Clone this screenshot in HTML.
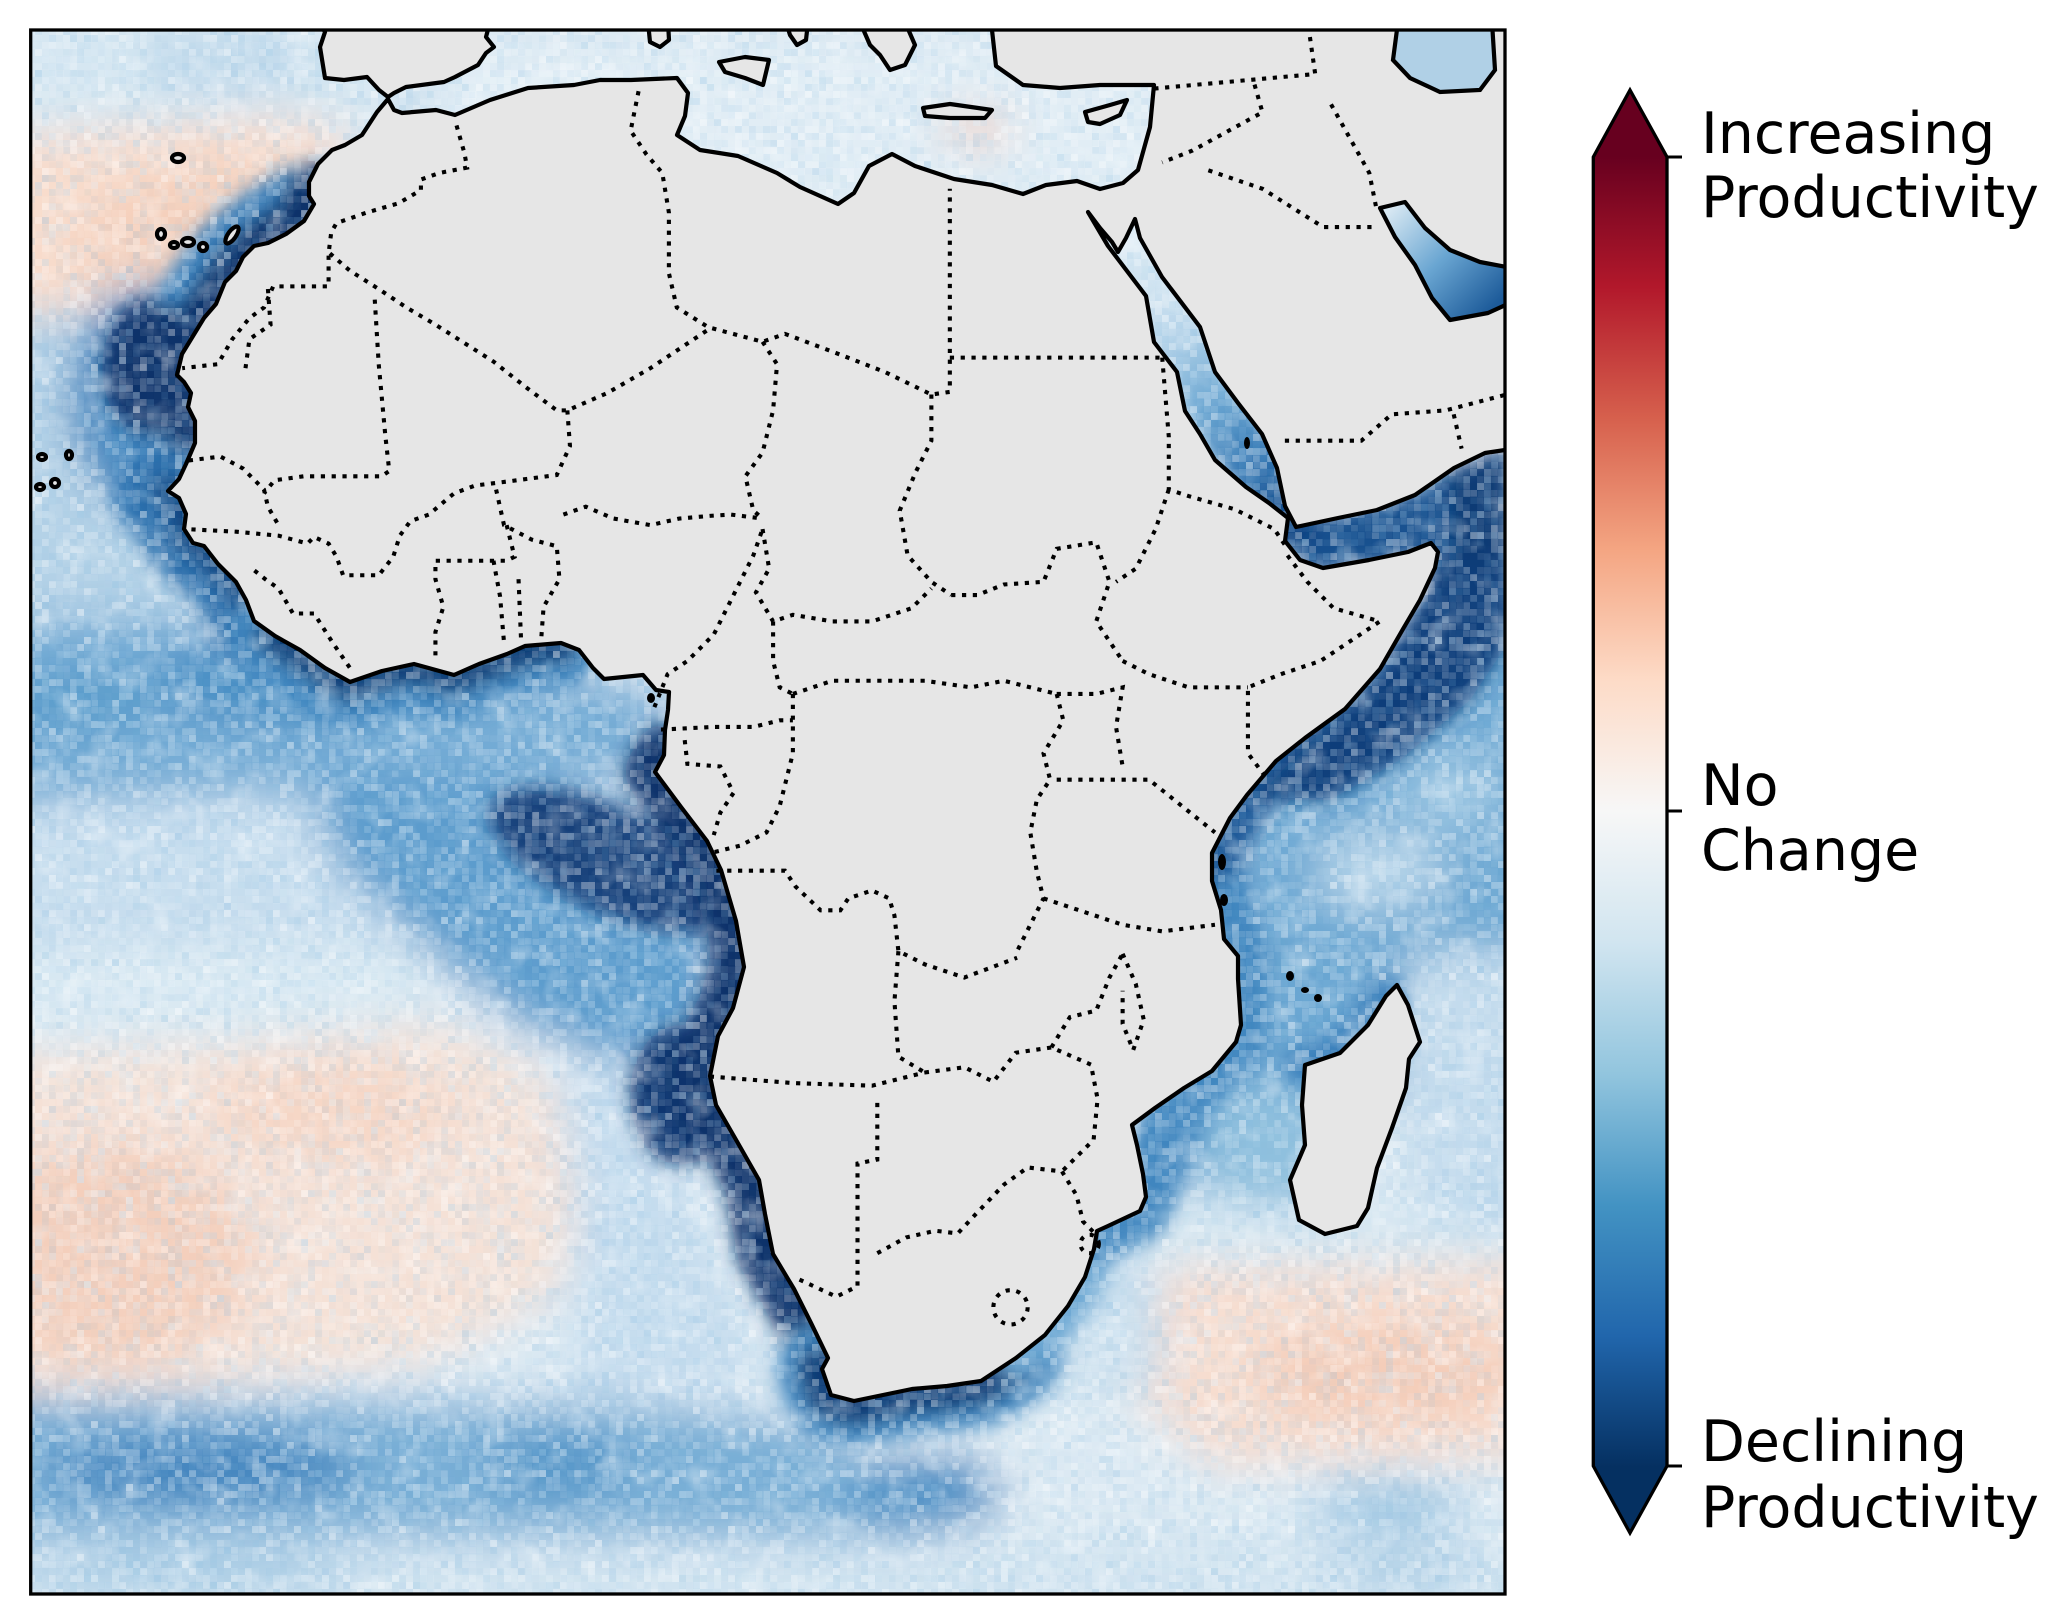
<!DOCTYPE html>
<html><head><meta charset="utf-8"><style>
html,body{margin:0;padding:0;background:#fff;}
svg{display:block;}
text{font-family:"DejaVu Sans","Liberation Sans",sans-serif;font-size:57px;fill:#000;}
</style></head><body>
<svg width="2072" height="1624" viewBox="0 0 2072 1624" xmlns="http://www.w3.org/2000/svg">
<defs>
<clipPath id="frame"><rect x="32" y="31.5" width="1472" height="1561"/></clipPath>
<filter id="bl12" x="-0.2" y="-0.2" width="1.4" height="1.4"><feGaussianBlur stdDeviation="16"/></filter>
<filter id="bl8" x="-0.3" y="-0.3" width="1.6" height="1.6"><feGaussianBlur stdDeviation="9"/></filter>
<filter id="nz1" filterUnits="userSpaceOnUse" x="0" y="0" width="1540" height="1624">
<feTurbulence type="fractalNoise" baseFrequency="0.035" numOctaves="2" seed="7"/>
<feColorMatrix type="matrix" values="0 0 0 0 1  0 0 0 0 1  0 0 0 0 1  2.6 0 0 0 -1.35"/>
</filter>
<filter id="nz2" filterUnits="userSpaceOnUse" x="0" y="0" width="1540" height="1624">
<feTurbulence type="fractalNoise" baseFrequency="0.45" numOctaves="1" seed="3" result="t"/>
<feColorMatrix in="t" type="matrix" values="0 0 0 0 1  0 0 0 0 1  0 0 0 0 1  3.2 0 0 0 -1.55" result="w"/>
<feFlood x="3" y="3" width="1" height="1" flood-color="#000" flood-opacity="1"/>
<feComposite width="7" height="7"/>
<feTile result="a"/>
<feComposite in="w" in2="a" operator="in"/>
<feMorphology operator="dilate" radius="3"/>
</filter>
<filter id="nz3" filterUnits="userSpaceOnUse" x="0" y="0" width="1540" height="1624">
<feTurbulence type="fractalNoise" baseFrequency="0.45" numOctaves="1" seed="11" result="t"/>
<feColorMatrix in="t" type="matrix" values="0 0 0 0 0.26  0 0 0 0 0.52  0 0 0 0 0.76  0 3.2 0 0 -1.65" result="w"/>
<feFlood x="3" y="3" width="1" height="1" flood-color="#000" flood-opacity="1"/>
<feComposite width="7" height="7"/>
<feTile result="a"/>
<feComposite in="w" in2="a" operator="in"/>
<feMorphology operator="dilate" radius="3"/>
</filter>
<linearGradient id="cb" x1="0" y1="1" x2="0" y2="0">
<stop offset="0" stop-color="#053061"/><stop offset="0.1" stop-color="#2166ac"/><stop offset="0.2" stop-color="#4393c3"/><stop offset="0.3" stop-color="#92c5de"/><stop offset="0.4" stop-color="#d1e5f0"/><stop offset="0.5" stop-color="#f7f7f7"/><stop offset="0.6" stop-color="#fddbc7"/><stop offset="0.7" stop-color="#f4a582"/><stop offset="0.8" stop-color="#d6604d"/><stop offset="0.9" stop-color="#b2182b"/><stop offset="1" stop-color="#67001f"/>
</linearGradient>
<linearGradient id="rs" gradientUnits="userSpaceOnUse" x1="1095" y1="215" x2="1290" y2="530">
<stop offset="0" stop-color="#e6f0f7"/><stop offset="0.35" stop-color="#c5ddee"/><stop offset="0.6" stop-color="#6aa6d2"/><stop offset="0.8" stop-color="#2f73b1"/><stop offset="1" stop-color="#0e4180"/>
</linearGradient>
<linearGradient id="pg" gradientUnits="userSpaceOnUse" x1="1390" y1="210" x2="1490" y2="310">
<stop offset="0" stop-color="#d6e7f2"/><stop offset="0.5" stop-color="#6aa6d2"/><stop offset="1" stop-color="#1d5b9a"/>
</linearGradient>
</defs>

<g clip-path="url(#frame)">
<!-- broad ocean layer (display coords) -->
<g transform="translate(1.48,1.48) scale(1.319)" filter="url(#bl12)">
<rect x="-40" y="-40" width="1240" height="1310" fill="#dbe9f3"/>
<path d="M-40,-40 L280,-40 L280,85 L-40,100 Z" fill="#d6e7f2"/>
<ellipse cx="170" cy="45" rx="70" ry="25" fill="#c0d9eb"/>
<path d="M-40,105 L100,95 L200,88 L262,95 L250,145 L215,180 L170,205 L110,230 L-40,245 Z" fill="#f8dccc"/>
<ellipse cx="140" cy="165" rx="90" ry="40" transform="rotate(-15 140 165)" fill="#f5d0bc"/>
<path d="M-40,240 L60,235 L90,330 L140,420 L150,480 L-40,480 Z" fill="#b4d2e7"/>
<ellipse cx="105" cy="300" rx="55" ry="85" fill="#3f86bf"/>
<path d="M-40,470 L150,465 L260,500 L420,505 L500,520 L520,590 L350,600 L200,605 L-40,610 Z" fill="#74acd5"/>
<ellipse cx="210" cy="515" rx="100" ry="35" fill="#4a8fc5"/>
<ellipse cx="60" cy="530" rx="60" ry="30" fill="#5c9dcc"/>
<path d="M-40,610 L240,600 L310,650 L310,720 L-40,725 Z" fill="#c6ddee"/>
<path d="M230,585 L380,590 L500,615 L545,650 L545,800 L470,810 L380,770 L310,710 L250,650 Z" fill="#5b9ccd"/>
<path d="M-40,720 L320,715 L340,790 L-40,805 Z" fill="#d9e9f3"/>
<path d="M-40,800 L180,790 L330,775 L410,810 L440,890 L420,980 L330,1030 L160,1050 L-40,1060 Z" fill="#f5e1d6"/>
<ellipse cx="80" cy="950" rx="110" ry="85" fill="#f4cfbc"/>
<ellipse cx="250" cy="840" rx="90" ry="40" fill="#f6d7c6"/>
<path d="M420,810 L500,820 L540,950 L580,1050 L430,1055 L440,960 Z" fill="#c4dcee"/>
<path d="M-40,1055 L300,1060 L480,1062 L600,1075 L680,1110 L700,1165 L-40,1170 Z" fill="#78aed6"/>
<ellipse cx="150" cy="1112" rx="120" ry="25" fill="#3d82bd"/>
<ellipse cx="420" cy="1110" rx="55" ry="20" fill="#4a8fc5"/>
<ellipse cx="700" cy="1130" rx="60" ry="30" fill="#4a8fc5"/>
<rect x="-40" y="1165" width="1240" height="100" fill="#d0e3f0"/>
<ellipse cx="140" cy="1190" rx="130" ry="16" fill="#a3c9e3"/>
<ellipse cx="1060" cy="1185" rx="60" ry="15" fill="#a9cce4"/>
<path d="M860,955 L1180,945 L1180,1105 L920,1110 L860,1060 Z" fill="#f7ddcf"/>
<ellipse cx="1050" cy="1040" rx="100" ry="40" fill="#f4cdb9"/>
<ellipse cx="1050" cy="1140" rx="60" ry="20" fill="#9cc6e2"/>
<path d="M780,880 L880,870 L880,1050 L760,1060 Z" fill="#c9dfee"/>
<path d="M930,540 L1180,420 L1180,740 L930,740 Z" fill="#6da8d3"/>
<ellipse cx="1045" cy="660" rx="50" ry="30" fill="#b5d4e9"/>
<ellipse cx="1100" cy="600" rx="40" ry="30" fill="#9ac5e2"/>
<path d="M880,720 L1060,720 L1060,830 L990,880 L880,900 Z" fill="#6aa6d2"/>
<path d="M1070,720 L1180,720 L1180,950 L1070,950 Z" fill="#c3dbed"/>
<ellipse cx="960" cy="880" rx="50" ry="60" fill="#8fc0de"/>
<path d="M870,905 L1180,935 L1180,955 L870,960 Z" fill="#d6e7f2"/>
<rect x="280" y="40" width="600" height="100" fill="#e1edf5"/>
<ellipse cx="740" cy="97" rx="25" ry="10" fill="#f3c3ac"/>
<ellipse cx="310" cy="72" rx="20" ry="8" fill="#86b9dc"/>
</g>

<!-- coastal detail layer (actual coords) -->
<g filter="url(#bl8)" fill="none" stroke-linejoin="round" stroke-linecap="round">
<polyline points="304,221 268,243 236,271 216,304 193,336 177,375 191,393 195,443 179,479 168,491" stroke="#3b80bb" stroke-width="110"/>
<ellipse cx="150" cy="368" rx="48" ry="68" fill="#08306b" stroke="none"/>
<polyline points="318,190 309,200 304,221 268,243 236,271 216,304 193,336 177,375 191,393 195,443 179,479 168,491" stroke="#08306b" stroke-width="56"/>
<polyline points="168,491 179,498 186,514 184,529 193,543 204,546 218,564 236,582 246,600 254,621 275,636 300,650" stroke="#2c6eac" stroke-width="90"/>
<polyline points="168,491 179,498 186,514 184,529 193,543 204,546 218,564 236,582 246,600 254,621 275,636 300,650" stroke="#0f427f" stroke-width="30"/>
<polyline points="275,636 300,650 325,668 350,682 382,671 414,664 454,675 479,664 507,654 525,646 561,643" stroke="#3f86bf" stroke-width="90"/>
<polyline points="275,636 300,650 325,668 350,682 382,671 414,664 454,675 479,664 507,654 525,646 561,643" stroke="#0c3c77" stroke-width="40"/>
<ellipse cx="610" cy="860" rx="130" ry="52" transform="rotate(25 610 860)" fill="#123f7a" stroke="none"/>
<polyline points="664,755 655,772 681,807 707,841 721,870 736,921 744,967" stroke="#08306b" stroke-width="60"/>
<ellipse cx="680" cy="1095" rx="50" ry="70" fill="#0a3570" stroke="none"/>
<polyline points="744,967 733,1008 718,1036 710,1076 716,1105 739,1145 759,1180 765,1214 773,1254 794,1289 811,1323 828,1358 822,1369 831,1395" stroke="#08306b" stroke-width="70"/>
<polyline points="822,1369 831,1395 854,1401 883,1395 912,1389 947,1386 981,1381 1016,1358" stroke="#3f86bf" stroke-width="90"/>
<polyline points="822,1369 831,1395 854,1401 883,1395 912,1389 947,1386 981,1381 1016,1358" stroke="#0a3a74" stroke-width="50"/>
<polyline points="1016,1358 1045,1335 1068,1306 1085,1277 1094,1249" stroke="#6aa6d2" stroke-width="40"/>
<polyline points="1097,1231 1140,1211 1184,1088 1236,1042 1238,956 1212,853" stroke="#3f86bf" stroke-width="60"/>
<polyline points="1212,853 1230,818 1247,795 1276,761 1305,738" stroke="#1a5898" stroke-width="60"/>
<polygon points="1247,800 1300,745 1380,669 1420,600 1440,552 1510,545 1510,640 1470,700 1400,760 1330,800" fill="#0d3e7a" stroke="none"/>
<polygon points="1415,495 1454,468 1510,445 1510,560 1440,560" fill="#0b3a74" stroke="none"/>
<polygon points="1285,535 1300,515 1338,512 1415,492 1450,470 1450,560 1420,560 1300,575" fill="#174f8e" stroke="none"/>
<polyline points="1095,215 1135,270 1175,330 1200,380 1230,430 1260,470 1285,520" stroke="url(#rs)" stroke-width="60"/>
<polyline points="1305,1065 1340,1053 1368,1025 1386,996" stroke="#3a80bb" stroke-width="40"/>
</g>

<!-- grain -->
<rect x="0" y="0" width="1540" height="1624" filter="url(#nz1)" opacity="0.35"/>
<rect x="0" y="0" width="1540" height="1624" filter="url(#nz2)" opacity="0.45"/>
<rect x="0" y="0" width="1540" height="1624" filter="url(#nz3)" opacity="0.3"/>

<!-- land -->
<g fill="#e6e6e6" stroke="#000" stroke-width="4.2" stroke-linejoin="round">
<path d="M388,99 L377,112 L362,135 L345,145 L332,150 L318,164 L309,182 L309,196 L314,204 L304,221 L286,234 L268,243 L254,246 L243,257 L236,271 L225,282 L216,304 L204,318 L193,336 L182,354 L177,375 L184,382 L191,393 L188,407 L195,421 L195,443 L186,464 L179,479 L168,491 L179,498 L186,514 L184,529 L193,543 L204,546 L218,564 L236,582 L246,600 L254,621 L275,636 L300,650 L325,668 L350,682 L382,671 L414,664 L454,675 L479,664 L507,654 L525,646 L561,643 L579,650 L593,668 L604,679 L643,675 L656,690 L669,692 L668,710 L665,730 L664,755 L655,772 L681,807 L707,841 L721,870 L736,921 L744,967 L733,1008 L718,1036 L710,1076 L716,1105 L739,1145 L759,1180 L765,1214 L773,1254 L794,1289 L811,1323 L828,1358 L822,1369 L831,1395 L854,1401 L883,1395 L912,1389 L947,1386 L981,1381 L1016,1358 L1045,1335 L1068,1306 L1085,1277 L1094,1249 L1097,1231 L1108,1226 L1140,1211 L1146,1197 L1143,1174 L1137,1145 L1132,1125 L1155,1108 L1184,1088 L1212,1071 L1236,1042 L1241,1025 L1238,979 L1238,956 L1224,939 L1221,910 L1212,881 L1212,853 L1230,818 L1247,795 L1276,761 L1305,738 L1345,709 L1380,669 L1403,629 L1420,600 L1435,568 L1438,552 L1431,543 L1408,552 L1369,560 L1323,568 L1300,560 L1285,541 L1288,518 L1269,503 L1246,487 L1215,460 L1200,434 L1185,411 L1177,372 L1154,342 L1146,296 L1108,246 L1088,212 L1100,228 L1112,242 L1118,252 L1126,238 L1135,219 L1140,238 L1162,277 L1200,327 L1215,372 L1238,403 L1262,434 L1277,468 L1285,506 L1296,527 L1338,518 L1377,510 L1415,495 L1454,468 L1485,453 L1512,449 L1512,22 L990,22 L992,30 L996,66 L1023,85 L1060,88 L1100,85 L1154,85 L1150,127 L1138,170 L1123,183 L1100,189 L1077,181 L1046,185 L1023,194 L992,185 L954,179 L915,166 L892,154 L869,166 L854,193 L838,204 L800,187 L777,173 L738,156 L700,150 L677,135 L685,116 L688,93 L677,78 L631,80 L600,80 L574,85 L528,88 L490,100 L455,115 L436,110 L402,113 L394,110 Z"/>
<path d="M319,22 L325,32 L320,47 L325,78 L344,80 L367,77 L379,90 L388,97 L394,93 L406,87 L444,82 L455,77 L478,65 L486,53 L494,47 L486,37 L490,22 Z"/>
<path d="M648,22 L668,22 L669,40 L660,47 L650,42 Z"/>
<path d="M719,62 L745,57 L769,60 L763,85 L745,78 L725,72 Z"/>
<path d="M786,22 L808,22 L806,40 L797,45 L790,35 Z"/>
<path d="M860,22 L905,22 L915,45 L905,65 L890,70 L880,55 L870,45 Z"/>
<path d="M923,108 L950,104 L992,110 L985,118 L950,118 L925,116 Z"/>
<path d="M1085,112 L1110,105 L1127,100 L1120,115 L1100,124 L1088,122 Z"/>
<path d="M1397,985 L1408,1005 L1420,1042 L1409,1059 L1406,1088 L1392,1128 L1377,1168 L1368,1208 L1357,1226 L1325,1234 L1299,1220 L1290,1180 L1305,1145 L1302,1105 L1305,1065 L1340,1053 L1368,1025 L1386,996 Z"/>
<ellipse cx="178" cy="158" rx="6" ry="4"/>
<ellipse cx="161" cy="234" rx="4" ry="5"/>
<ellipse cx="174" cy="245" rx="4" ry="3"/>
<ellipse cx="188" cy="242" rx="6" ry="4"/>
<ellipse cx="203" cy="247" rx="4" ry="4"/>
<ellipse cx="232" cy="235" rx="4" ry="10" transform="rotate(35 232 235)"/>
<ellipse cx="42" cy="457" rx="4" ry="3"/>
<ellipse cx="69" cy="455" rx="3" ry="4"/>
<ellipse cx="55" cy="483" rx="4" ry="4"/>
<ellipse cx="40" cy="487" rx="4" ry="3"/>
</g>
<!-- inland waters -->
<path d="M1398,22 L1393,60 L1410,78 L1440,92 L1480,90 L1495,70 L1492,22 Z" fill="#b0d0e6" stroke="#000" stroke-width="4.2"/>
<path d="M1380,208 L1405,202 L1425,228 L1450,250 L1480,262 L1512,268 L1512,302 L1488,313 L1450,320 L1432,298 L1415,265 L1395,237 Z" fill="url(#pg)" stroke="#000" stroke-width="4.2" stroke-linejoin="round"/>
<g fill="#000">
<ellipse cx="1222" cy="862" rx="4" ry="8"/><ellipse cx="1224" cy="900" rx="4" ry="6"/>
<ellipse cx="1290" cy="976" rx="4" ry="5"/><ellipse cx="1305" cy="990" rx="4" ry="3"/><ellipse cx="1318" cy="998" rx="4" ry="4"/>
<ellipse cx="651" cy="698" rx="4" ry="5"/><ellipse cx="1247" cy="443" rx="3" ry="6"/>
</g>

<!-- borders (display coords) -->
<g transform="translate(1.48,1.48) scale(1.319)" fill="none" stroke="#000" stroke-width="3.1" stroke-dasharray="3.2 5">
<polyline points="345,94 351,115 353,126 332,130 318,135 318,143 301,153 277,160 254,168 250,175 248,191 248,216 206,216 199,232 188,240 175,256 164,275 137,278"/>
<polyline points="202,218 204,245 188,256 185,278"/>
<polyline points="249,191 264,204 286,218 307,232 329,245 351,259 373,273 397,292 421,310 429,310 459,297 492,278 537,248"/>
<polyline points="283,226 286,275 291,329 294,356 288,360 229,360 207,363 199,373"/>
<polyline points="142,348 166,345 183,354 199,370 202,383 210,397"/>
<polyline points="429,310 431,337 421,359 383,364 359,367 343,373 324,389 310,394 302,405 297,421 286,435 259,435 254,421 248,411 237,406 232,411 210,405 178,402 140,400"/>
<polyline points="375,370 381,397 402,408 421,413 423,438 411,459 409,486"/>
<polyline points="383,397 389,421 383,424 329,424 329,438 335,459 329,478 329,500"/>
<polyline points="373,424 378,451 381,486"/>
<polyline points="392,438 394,486"/>
<polyline points="426,389 443,383 464,392 492,397 514,392 537,390 553,389 577,392"/>
<polyline points="264,505 251,486 237,464 221,464 210,445 200,438 190,430"/>
<polyline points="483,68 477,98 489,116 501,130 506,160 506,182 506,206 512,232 536,247 577,258 594,252 634,267 670,281 705,298 719,296 719,270 719,142"/>
<polyline points="719,270 880,270"/>
<polyline points="577,258 588,275 585,310 577,342 564,360 570,386 577,392"/>
<polyline points="705,298 705,333 693,357 681,386 687,420 705,440 720,450"/>
<polyline points="495,535 505,510 520,500 540,480 550,460 560,440 570,420 577,400"/>
<polyline points="577,400 582,430 572,448 585,470 600,465 630,470 660,470 690,460 705,445"/>
<polyline points="585,470 585,500 590,520 600,525"/>
<polyline points="500,552 540,550 570,550 590,545 600,545"/>
<polyline points="518,560 520,578 545,580 555,600 545,615 540,632"/>
<polyline points="600,525 600,570 590,610 580,630 560,640 540,645"/>
<polyline points="600,525 630,515 665,515 700,515 735,520 760,515 800,525"/>
<polyline points="720,450 740,450 760,442 790,440 800,415 830,410 840,440 830,470 850,500"/>
<polyline points="880,270 885,330 885,370 900,375 935,385 965,400 975,415"/>
<polyline points="885,370 875,400 860,430 845,440"/>
<polyline points="975,420 990,440 1010,460 1045,470 1000,500 970,510 945,520 945,570 960,590"/>
<polyline points="850,500 870,510 900,520 945,520"/>
<polyline points="800,525 830,525 850,520 845,550 850,580"/>
<polyline points="800,525 805,545 790,570 795,590 785,605 780,630 785,660 790,680 780,700 770,720"/>
<polyline points="800,590 850,590 870,590 920,630"/>
<polyline points="790,680 820,690 850,700 880,705 920,700"/>
<polyline points="542,659 594,659 602,671 621,689 636,689 642,680 660,674 673,680 677,693 680,720 700,730 730,740 770,725"/>
<polyline points="680,720 677,758 680,800 700,812"/>
<polyline points="537,815 600,820 660,822 700,812"/>
<polyline points="605,969 633,982 649,974 649,881 664,878 664,832"/>
<polyline points="664,949 686,937 708,932 725,934 739,919 760,897 778,884 804,887"/>
<polyline points="700,812 730,808 752,819 769,797 796,793 826,806 831,832 828,863 804,887"/>
<polyline points="796,793 810,770 830,765 840,740 850,722"/>
<polyline points="850,722 860,745 866,772 858,795 850,775 850,750"/>
<polyline points="804,887 815,905 820,925 830,935"/>
<circle cx="765" cy="990" r="13"/>
<circle cx="825" cy="942" r="7"/>
<polyline points="874,66 996,55 991,20"/>
<polyline points="950,63 956,84 903,113 880,122"/>
<polyline points="915,128 956,142 1002,171 1043,171"/>
<polyline points="1008,78 1037,130 1043,160"/>
<polyline points="973,333 1031,333 1054,313 1095,310 1141,298"/>
<polyline points="1101,313 1107,339"/>
</g>
</g>

<!-- frame -->
<rect x="30.7" y="30" width="1474.3" height="1564" fill="none" stroke="#000" stroke-width="3.3"/>

<!-- colorbar -->
<rect x="1593.3" y="156" width="73.7" height="1311" fill="url(#cb)"/>
<polygon points="1593.3,157 1630,90 1667,157" fill="#67001f"/>
<polygon points="1593.3,1466 1630,1533 1667,1466" fill="#053061"/>
<polygon points="1593.3,157 1630,90 1667,157 1667,1466 1630,1533 1593.3,1466" fill="none" stroke="#000" stroke-width="3.3" stroke-linejoin="miter"/>
<g stroke="#000" stroke-width="3">
<line x1="1667" y1="157" x2="1682" y2="157"/>
<line x1="1667" y1="811" x2="1682" y2="811"/>
<line x1="1667" y1="1466" x2="1682" y2="1466"/>
</g>
<text x="1701" y="153">Increasing</text>
<text x="1701" y="217">Productivity</text>
<text x="1701" y="805">No</text>
<text x="1701" y="870">Change</text>
<text x="1701" y="1461">Declining</text>
<text x="1701" y="1527">Productivity</text>
</svg>
</body></html>
